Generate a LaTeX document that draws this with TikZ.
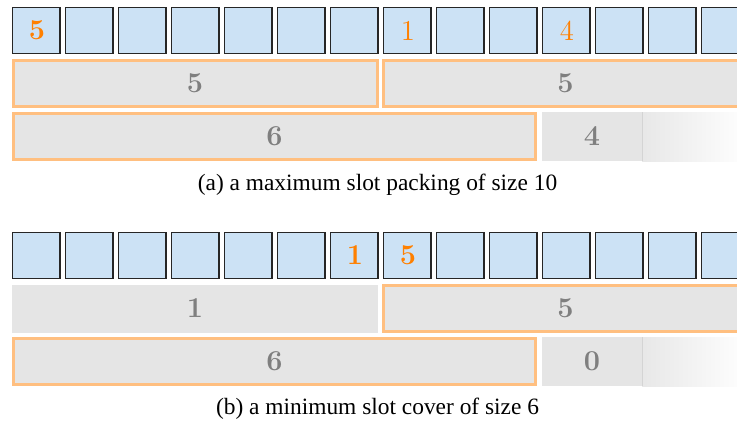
\documentclass[tikz,border=0pt]{standalone}
\usepackage{xcolor}
\usepackage{fontspec}
\newfontfamily\capfont{Liberation Serif}
\definecolor{slotblue}{HTML}{CCE2F5}
\definecolor{bargray}{HTML}{E5E5E5}
\definecolor{edgeorange}{HTML}{FFBF80}
\definecolor{numorange}{HTML}{FF8000}
\definecolor{numgray}{HTML}{7F7F7F}
\definecolor{sepgray}{HTML}{D4D4D4}
\tikzset{
  slotbox/.style={fill=slotblue, draw=black!85, line width=0.6pt},
  barplain/.style={fill=bargray},
  barmark/.style={fill=bargray, draw=edgeorange, line width=1.5pt},
  fadebox/.style={left color=bargray!90!white, right color=white},
  sepline/.style={draw=sepgray, line width=0.5pt},
  numlabel/.style={font=\fontsize{14.4}{16}\selectfont\bfseries, text=numgray, inner sep=0pt},
  slotnum/.style={numlabel, text=numorange},
  slotnumlight/.style={font=\fontsize{14.4}{16}\selectfont, text=numorange, inner sep=0pt},
  captext/.style={font=\capfont\fontsize{11.7}{14}\selectfont, inner sep=0pt},
}
\begin{document}
\begin{tikzpicture}[x=0.5pt,y=-0.5pt]
\useasboundingbox (0,0) rectangle (737,423);
\clip (0,0) rectangle (737,423);
% ---------- panel (a) ----------
\begin{scope}
  \foreach \k in {1,...,14}
    \draw[slotbox] ({12.6+53*(\k-1)},7.6) rectangle ({59.9+53*(\k-1)},53.7);
  \node[slotnum] (a-s1) at (37,30.5) {5};
  \node[slotnumlight] (a-s8) at (408,30.5) {1};
  \node[slotnumlight] (a-s11) at (567,30.5) {4};
  \draw[barmark] (13.5,60.5) rectangle (377.5,106.5);
  \draw[barmark] (383.5,60.5) rectangle (760,106.5);
  \node[numlabel] (a-b1) at (195,83.5) {5};
  \node[numlabel] (a-b2) at (565.5,83.5) {5};
  \draw[barmark] (13.5,113.5) rectangle (535.5,159.5);
  \fill[barplain] (542,112) rectangle (642,161);
  \shade[fadebox] (642,112) rectangle (749,161);
  \draw[sepline] (642,112) -- (642,161);
  \node[numlabel] (a-c1) at (274.5,136.5) {6};
  \node[numlabel] (a-c2) at (592,136.5) {4};
  \node[captext] (a-cap) at (377.5,185) {(a) a maximum slot packing of size 10};
\end{scope}
% ---------- panel (b) ----------
\begin{scope}[shift={(0,225)}]
  \foreach \k in {1,...,14}
    \draw[slotbox] ({12.6+53*(\k-1)},7.6) rectangle ({59.9+53*(\k-1)},53.7);
  \node[slotnum] (b-s7) at (355,30.5) {1};
  \node[slotnum] (b-s8) at (408,30.5) {5};
  \fill[barplain] (12,59.5) rectangle (378,108);
  \draw[barmark] (383.5,60.5) rectangle (760,106.5);
  \node[numlabel] (b-b1) at (195,83.5) {1};
  \node[numlabel] (b-b2) at (565.5,83.5) {5};
  \draw[barmark] (13.5,113.5) rectangle (535.5,159.5);
  \fill[barplain] (542,112) rectangle (642,161);
  \shade[fadebox] (642,112) rectangle (749,161);
  \draw[sepline] (642,112) -- (642,161);
  \node[numlabel] (b-c1) at (274.5,136.5) {6};
  \node[numlabel] (b-c2) at (592,136.5) {0};
  \node[captext] (b-cap) at (377.5,184) {(b) a minimum slot cover of size 6};
\end{scope}
\end{tikzpicture}
\end{document}
